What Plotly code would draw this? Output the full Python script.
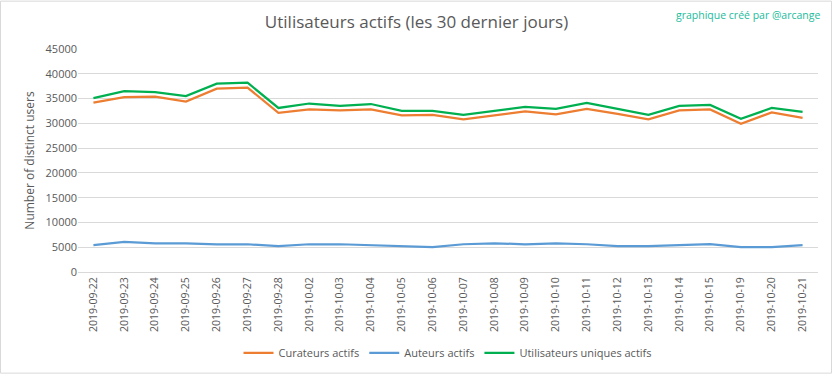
import plotly.graph_objects as go

dates = ["2019-09-22", "2019-09-23", "2019-09-24", "2019-09-25", "2019-09-26", "2019-09-27",
         "2019-09-28", "2019-10-02", "2019-10-03", "2019-10-04", "2019-10-05", "2019-10-06",
         "2019-10-07", "2019-10-08", "2019-10-09", "2019-10-10", "2019-10-11", "2019-10-12",
         "2019-10-13", "2019-10-14", "2019-10-15", "2019-10-19", "2019-10-20", "2019-10-21"]

curateurs = [34200, 35300, 35400, 34400, 37000, 37200, 32100, 32800, 32600, 32800, 31600, 31700,
             30800, 31600, 32400, 31800, 32900, 31900, 30800, 32600, 32800, 29900, 32200, 31100]

auteurs = [5400, 6100, 5800, 5800, 5600, 5600, 5200, 5600, 5600, 5400, 5200, 5000,
           5600, 5800, 5600, 5800, 5600, 5200, 5200, 5400, 5600, 5000, 5000, 5400]

uniques = [35100, 36500, 36300, 35500, 38000, 38200, 33100, 34000, 33500, 33900, 32500, 32500,
           31700, 32500, 33300, 32900, 34100, 32900, 31700, 33500, 33700, 30900, 33100, 32300]

series_names = ["Curateurs actifs", "Auteurs actifs", "Utilisateurs uniques actifs"]
series_colors = ["#ED7D31", "#5B9BD5", "#00B050"]

W, H = 833, 379
ML, MR, MT, MB = 78, 15, 49, 104

fig = go.Figure()
for name, vals, col in zip(series_names, [curateurs, auteurs, uniques], series_colors):
    fig.add_trace(go.Scatter(x=dates, y=vals, name=name, mode="lines",
                             line=dict(color=col, width=2.25)))

pw = W - ML - MR
ph = H - MT - MB

fig.update_layout(
    width=W, height=H,
    margin=dict(l=ML, r=MR, t=MT, b=MB),
    paper_bgcolor="white", plot_bgcolor="white",
    font=dict(family="Open Sans, Liberation Sans, sans-serif", color="#595959"),
    title=dict(text="Utilisateurs actifs (les 30 dernier jours)", x=0.5, xanchor="center",
               y=1 - 22 / H, yanchor="middle",
               font=dict(size=17, color="#595959", family="Open Sans, sans-serif")),
    showlegend=True,
    legend=dict(orientation="h", x=0.5, xanchor="center", y=-(357 - MT - ph) / ph, yanchor="middle",
                font=dict(size=11, color="#595959"), traceorder="normal"),
    xaxis=dict(type="category", range=[-0.5, len(dates) - 0.5], tickangle=-90,
               tickfont=dict(size=10.5, color="#595959"), showgrid=False, showline=True,
               linecolor="#d9d9d9", linewidth=1, ticks=""),
    yaxis=dict(range=[0, 45000], dtick=5000, tickformat="d", showgrid=True, gridcolor="#d9d9d9",
               gridwidth=1, zeroline=False, tickfont=dict(size=11, color="#595959"),
               title=dict(text="Number of distinct users", font=dict(size=12, color="#595959"),
                          standoff=8)),
    annotations=[dict(text="graphique créé par @arcange", xref="paper", yref="paper",
                      x=(822 - ML) / pw, y=1 + (MT - 15) / ph, xanchor="right", yanchor="middle",
                      showarrow=False, font=dict(size=10.5, color="#1ABC9C"))],
    shapes=[dict(type="rect", xref="paper", yref="paper",
                 x0=-(ML - 0.5) / pw, x1=1 + (MR - 1.5) / pw,
                 y0=-(MB - 1.5) / ph, y1=1 + (MT - 0.5) / ph,
                 line=dict(color="#d9d9d9", width=1), layer="below")],
)

fig.write_html("out.html", config={"displayModeBar": False},
               post_script="document.body.style.margin='0';document.body.style.overflow='hidden';")
